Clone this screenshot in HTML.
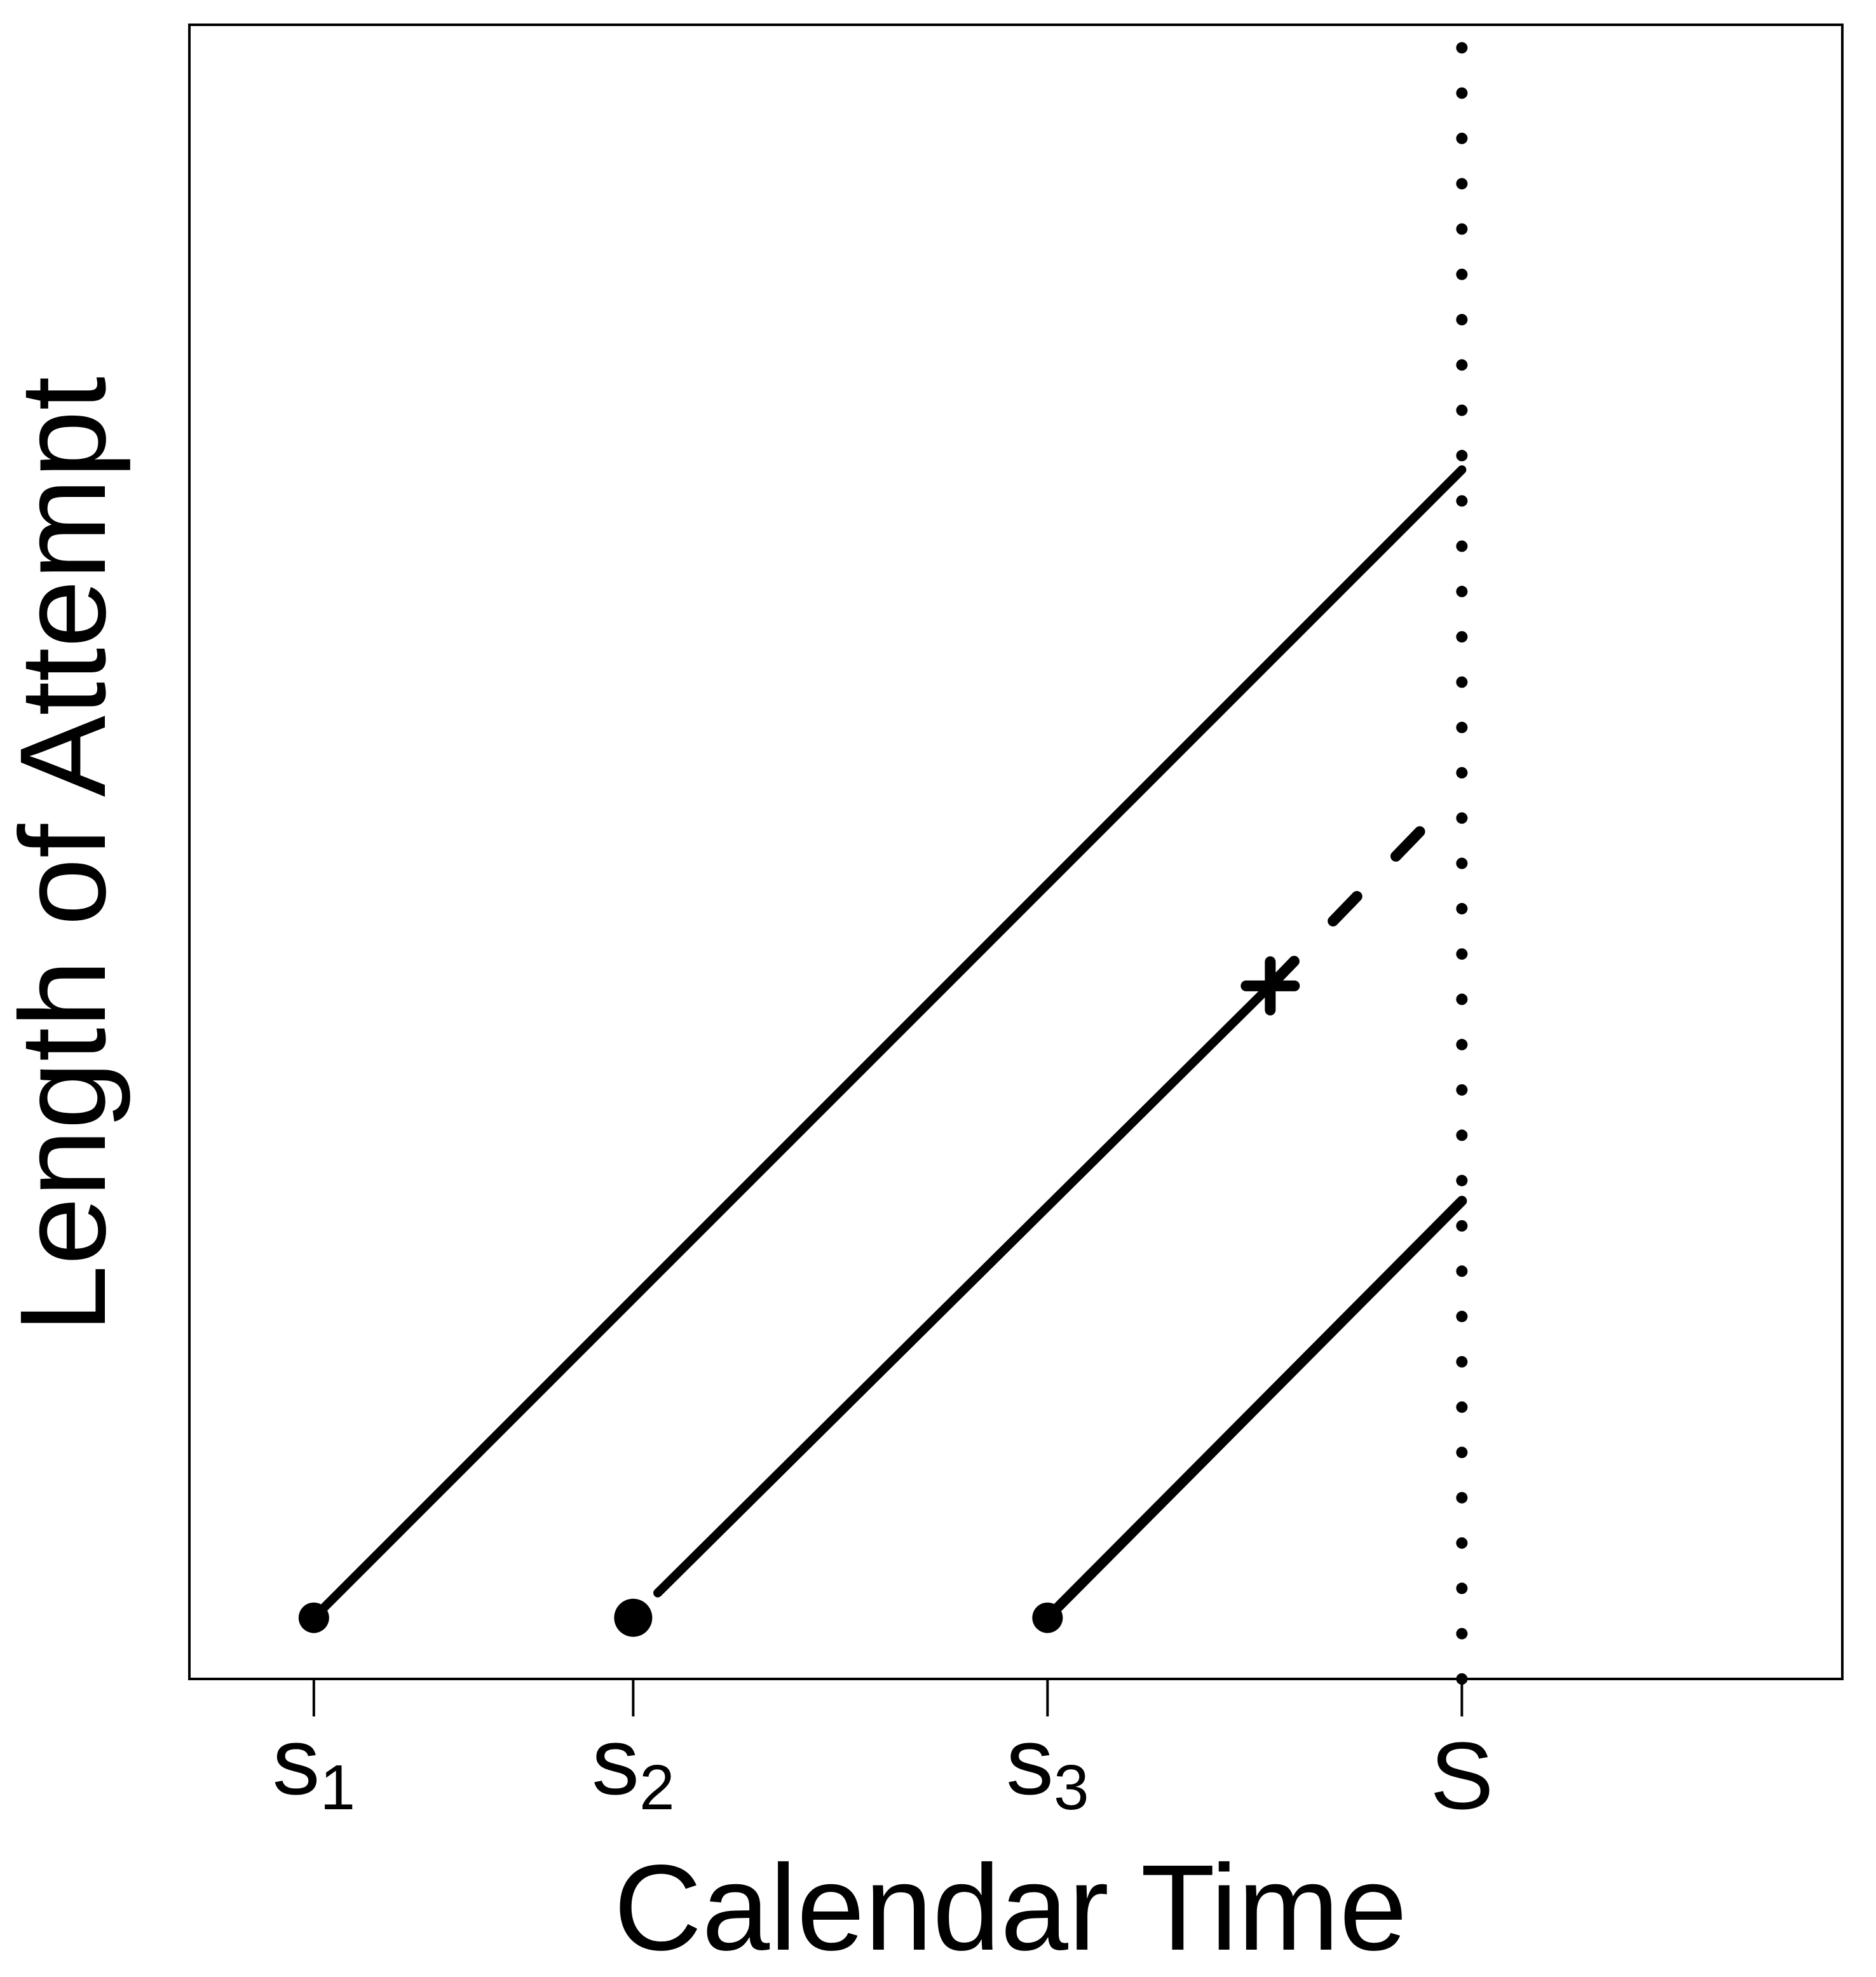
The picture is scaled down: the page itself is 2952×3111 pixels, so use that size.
<!DOCTYPE html>
<html><head><meta charset="utf-8"><style>html,body{margin:0;padding:0;background:#fff;}svg{display:block;}</style></head>
<body>
<svg id="chart" width="2952" height="3111" viewBox="0 0 2952 3111" xmlns="http://www.w3.org/2000/svg" font-family="Liberation Sans, Arial, sans-serif">
<rect x="0" y="0" width="2952" height="3111" fill="#fff"/>
<rect x="298" y="39" width="2601" height="2603" fill="none" stroke="#000" stroke-width="4"/>
<g id="marks"></g>
<text x="1590" y="3068" font-size="192" text-anchor="middle">Calendar Time</text>
<text transform="translate(165,1345) rotate(-90)" font-size="192" text-anchor="middle">Length of Attempt</text>
</svg>
<script>
const tickNames = ["s", "s", "s", "S"];
const tickSubs = ["1", "2", "3", ""];
const tickValues = [7.6, 27.1, 52.4, 77.7];
const startTimes = [7.6, 27.1, 52.4];
const startLength = 3.7;
const line1 = [[7.6, 3.7], [77.7, 73.1]];
const line2Solid = [[28.6, 5.2], [66.0, 41.9]];
const line2Dashed = [[66.0, 41.9], [75.3, 51.4]];
const line3 = [[52.4, 3.7], [77.7, 28.9]];
const censorPoint = [66.0, 41.9];
const cutoff = 77.7;
const pointRadius = [24, 30, 24];

const X = v => 298 + v / 100 * 2577;
const Y = v => 2642 - v / 100 * 2603;
const NS = "http://www.w3.org/2000/svg";
const g = document.getElementById('marks');
function mk(tag, attrs) { const e = document.createElementNS(NS, tag); for (const k in attrs) e.setAttribute(k, attrs[k]); g.appendChild(e); return e; }

for (let y = 2642; y >= 60; y -= 71.3) {
  const d = mk('circle', {cx: X(cutoff), cy: y, r: 9, fill: '#000'});
  
  
}
function seg(p, w, name, dash) {
  const l = mk('line', {x1: X(p[0][0]), y1: Y(p[0][1]), x2: X(p[1][0]), y2: Y(p[1][1]), stroke: '#000', 'stroke-width': w, 'stroke-linecap': 'round'});
  if (dash) l.setAttribute('stroke-dasharray', dash);
  
  
}
seg(line1, 14, 'attempt-1-line');
seg(line2Solid, 14, 'attempt-2-line');
seg(line2Dashed, 17, 'attempt-2-dashed', '54 88');
seg(line3, 16, 'attempt-3-line');
startTimes.forEach((t, i) => {
  const c = mk('circle', {cx: X(t), cy: Y(startLength), r: pointRadius[i], fill: '#000'});
  
  
});
const cx = X(censorPoint[0]), cy = Y(censorPoint[1]);
const p1 = mk('line', {x1: cx - 38, y1: cy, x2: cx + 38, y2: cy, stroke: '#000', 'stroke-width': 17, 'stroke-linecap': 'round'});


const p2 = mk('line', {x1: cx, y1: cy - 38, x2: cx, y2: cy + 38, stroke: '#000', 'stroke-width': 17, 'stroke-linecap': 'round'});



tickValues.forEach((v, i) => {
  const t = mk('line', {x1: X(v), y1: 2642, x2: X(v), y2: 2701, stroke: '#000', 'stroke-width': 4});
  
  
  const tx = mk('text', {x: X(v), y: 2846, 'font-size': 150, 'text-anchor': 'middle'});
  
  
  tx.appendChild(document.createTextNode(tickNames[i]));
  if (tickSubs[i]) {
    const ts = document.createElementNS(NS, 'tspan');
    ts.setAttribute('font-size', '100');
    ts.textContent = tickSubs[i];
    tx.appendChild(ts);
    tx.setAttribute('y', 2823);
    ts.setAttribute('dy', '24');
  }
});
</script>
</body></html>
